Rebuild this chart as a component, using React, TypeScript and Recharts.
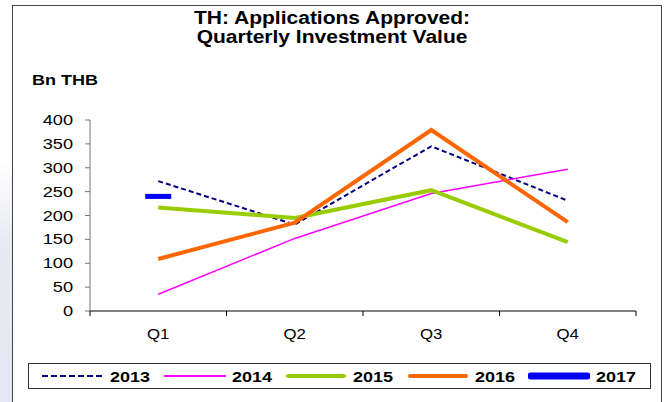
import { Line, LineChart, XAxis, YAxis } from 'recharts'

const quarters = ['Q1', 'Q2', 'Q3', 'Q4']
const values2013 = [272, 181, 345, 231]
const values2014 = [35, 152, 246, 297]
const values2015 = [217, 195, 253, 144]
const values2016 = [109, 185, 379, 186]
const values2017 = [240, null, null, null]
const yTicks = [0, 50, 100, 150, 200, 250, 300, 350, 400]

const series = [
  { key: 'y2013', name: '2013', color: '#000080', width: 2, dash: '5 3' },
  { key: 'y2014', name: '2014', color: '#ff00ff', width: 1.5, dash: undefined },
  { key: 'y2015', name: '2015', color: '#99cc00', width: 4, dash: undefined },
  { key: 'y2016', name: '2016', color: '#ff6600', width: 4, dash: undefined },
  { key: 'y2017', name: '2017', color: '#0000ff', width: 6, dash: undefined },
]

const data = quarters.map((q, i) => ({
  q,
  y2013: values2013[i],
  y2014: values2014[i],
  y2015: values2015[i],
  y2016: values2016[i],
  y2017: values2017[i],
}))

const FONT = '"Liberation Sans", Arial, sans-serif'
const STRETCH = 1.2 // the original is a bit wider than tall
const PLOT_LEFT = 90
const PLOT_RIGHT = 636
const BAND = (PLOT_RIGHT - PLOT_LEFT) / quarters.length

const YTick = (props: any) => {
  const { x, y, payload } = props
  return (
    <g transform={`translate(${x},${y})`}>
      <text
        transform="scale(1.3,1)"
        textAnchor="end"
        dy={5}
        fontSize={14}
        fontFamily={FONT}
        fill="#000"
      >
        {payload.value}
      </text>
    </g>
  )
}

const XTick = (props: any) => {
  const { x, y, payload, index } = props
  const last = index === quarters.length - 1
  return (
    <g>
      <line x1={x - BAND / 2} x2={x - BAND / 2} y1={y} y2={y + 5} stroke="#000" />
      {last && <line x1={x + BAND / 2} x2={x + BAND / 2} y1={y} y2={y + 5} stroke="#000" />}
      <g transform={`translate(${x},${y + 28})`}>
        <text
          transform={`scale(${STRETCH},1)`}
          textAnchor="middle"
          fontSize={14}
          fontFamily={FONT}
          fill="#000"
        >
          {payload.value}
        </text>
      </g>
    </g>
  )
}

// 2017 has only one point, drawn as a short thick bar
const BarDot = (props: any) => {
  const { cx, cy, index } = props
  if (cy == null || cx == null) return <g key={`d${index}`} />
  return <rect key={`d${index}`} x={cx - 13} y={cy - 2.5} width={26} height={5} fill="#0000ff" />
}

const Swatch = ({ s }: { s: (typeof series)[number] }) => (
  <svg width={62} height={10} style={{ display: 'block' }}>
    <line
      x1={s.width > 2 ? 3 : 0}
      x2={s.width > 2 ? 59 : 62}
      y1={5}
      y2={5}
      stroke={s.color}
      strokeWidth={s.key === 'y2017' ? 7 : s.key === 'y2013' ? 2 : s.width > 2 ? 4 : 2}
      strokeDasharray={s.dash ? '6 3' : undefined}
      strokeLinecap={s.width > 2 ? 'round' : 'butt'}
    />
  </svg>
)

export default function App() {
  return (
    <div
      style={{
        position: 'fixed',
        left: 0,
        top: 0,
        width: 668,
        height: 402,
        overflow: 'hidden',
        background: '#fff',
        fontFamily: FONT,
      }}
    >
      <div
        style={{
          position: 'absolute',
          left: 0,
          top: 0,
          width: 12,
          height: 402,
          background: 'linear-gradient(to bottom, #ffffff 40%, #e9e9f4 60%, #e6e6f2 100%)',
        }}
      />
      <div
        style={{
          position: 'absolute',
          left: 12,
          top: 5,
          width: 650,
          height: 420,
          border: '1px solid #444',
          boxSizing: 'border-box',
        }}
      />
      <div
        style={{
          position: 'absolute',
          left: 0,
          top: 9,
          width: 664,
          textAlign: 'center',
          fontWeight: 'bold',
          fontSize: 17.5,
          lineHeight: '19px',
        }}
      >
        <div style={{ display: 'inline-block', transform: `scaleX(${STRETCH})` }}>
          TH: Applications Approved:
          <br />
          Quarterly Investment Value
        </div>
      </div>
      <div
        style={{
          position: 'absolute',
          left: 32,
          top: 71,
          fontWeight: 'bold',
          fontSize: 15,
          lineHeight: '18px',
          transform: `scaleX(${STRETCH})`,
          transformOrigin: 'left center',
        }}
      >
        Bn THB
      </div>

      <div style={{ position: 'absolute', left: 0, top: 0 }}>
        <LineChart
          width={668}
          height={402}
          data={data}
          margin={{ top: 120, right: 668 - PLOT_RIGHT, bottom: 61, left: 30 }}
        >
          <XAxis
            dataKey="q"
            height={30}
            padding={{ left: BAND / 2, right: BAND / 2 }}
            tickSize={0}
            tickMargin={0}
            tickLine={false}
            axisLine={{ stroke: '#000' }}
            tick={<XTick />}
            interval={0}
          />
          <YAxis
            width={60}
            domain={[0, 400]}
            ticks={yTicks}
            interval={0}
            tickSize={5}
            tickMargin={12}
            tickLine={{ stroke: '#777' }}
            axisLine={{ stroke: '#777' }}
            tick={<YTick />}
          />
          {series.map((s) => (
            <Line
              key={s.key}
              dataKey={s.key}
              name={s.name}
              stroke={s.color}
              strokeWidth={s.width}
              strokeDasharray={s.dash}
              dot={s.key === 'y2017' ? <BarDot /> : false}
              activeDot={false}
              isAnimationActive={false}
              strokeLinejoin="miter"
            />
          ))}
        </LineChart>
      </div>

      <div
        style={{
          position: 'absolute',
          left: 28,
          top: 363,
          width: 623,
          height: 26,
          border: '1px solid #333',
          boxSizing: 'border-box',
          display: 'flex',
          alignItems: 'center',
          paddingLeft: 13,
        }}
      >
        {series.map((s) => (
          <div key={s.key} style={{ display: 'flex', alignItems: 'center', width: 123 }}>
            <Swatch s={s} />
            <span
              style={{
                display: 'inline-block',
                marginLeft: 6,
                fontWeight: 'bold',
                fontSize: 15,
                transform: `scaleX(${STRETCH})`,
                transformOrigin: 'left center',
              }}
            >
              {s.name}
            </span>
          </div>
        ))}
      </div>
    </div>
  )
}
